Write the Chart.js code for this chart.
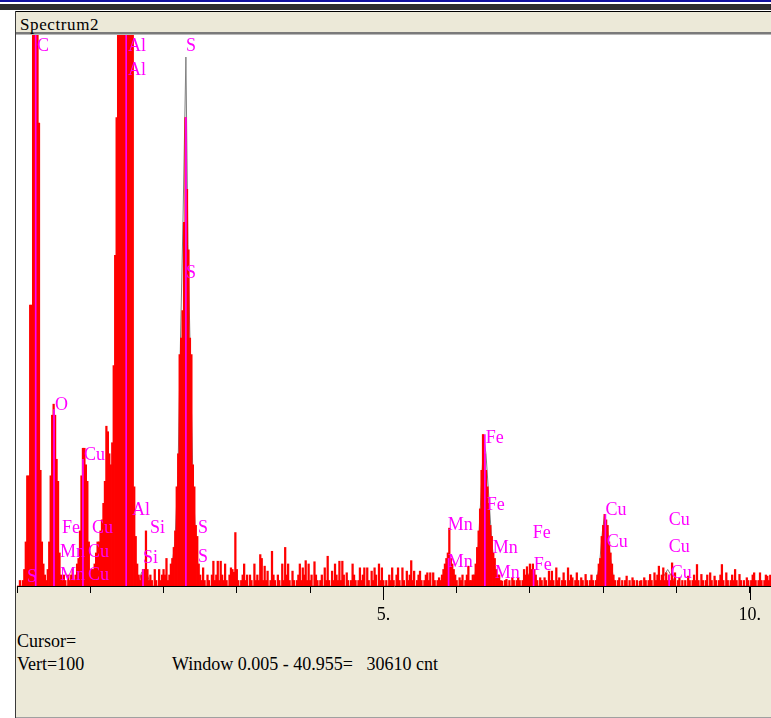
<!DOCTYPE html>
<html>
<head>
<meta charset="utf-8">
<title>Spectrum2</title>
<script src="https://cdn.jsdelivr.net/npm/chart.js@4.4.1/dist/chart.umd.min.js"></script>
<style>
  html, body { margin: 0; padding: 0; background: #fff; }
  body { width: 771px; height: 718px; position: relative; overflow: hidden; font-family: "Liberation Serif", serif; }
  .abs { position: absolute; }
  #barBlue { left: 0; top: 0; width: 771px; height: 2px; background: #10109c; }
  #barDark { left: 0; top: 4px; width: 771px; height: 6px; background: #2c2c2c; }
  #frameTop { left: 15px; top: 11px; width: 756px; height: 1px; background: #000; }
  #frameLeft { left: 15px; top: 11px; width: 1px; height: 707px; background: #3a3a3a; }
  #titleBar { left: 16px; top: 12px; width: 755px; height: 20px; background: #ece9d8; }
  #titleShadow { left: 16px; top: 32px; width: 755px; height: 2px; background: #7a7a7a; }
  #titleShadow2 { left: 16px; top: 34px; width: 755px; height: 1px; background: #b8b8b8; }
  #plotBg { left: 16px; top: 35px; width: 755px; height: 551px; background: #fff; }
  #lowerPanel { left: 16px; top: 586px; width: 755px; height: 131px; background: #ece9d8; }
  #lowerEdge { left: 16px; top: 717px; width: 755px; height: 1px; background: #a0a0a0; }
  #spectrumChart { position: absolute; left: 17px; top: 35px; }
  .txt { position: absolute; color: #000; white-space: pre; }
  #titleTxt { left: 20px; top: 16px; font-size: 17px; line-height: 17px; letter-spacing: 0.6px; }
  #cursorTxt { left: 17px; top: 632px; font-size: 18px; line-height: 18px; }
  #vertTxt { left: 17px; top: 655px; font-size: 18px; line-height: 18px; }
  #windowTxt { left: 172px; top: 655px; font-size: 18px; line-height: 18px; }
</style>
</head>
<body>
<div class="abs" id="barBlue"></div>
<div class="abs" id="barDark"></div>
<div class="abs" id="frameTop"></div>
<div class="abs" id="titleBar"></div>
<div class="abs" id="titleShadow"></div>
<div class="abs" id="titleShadow2"></div>
<div class="abs" id="plotBg"></div>
<div class="abs" id="lowerPanel"></div>
<div class="abs" id="lowerEdge"></div>
<div class="abs" id="frameLeft"></div>
<div class="txt" id="titleTxt">Spectrum2</div>
<canvas id="spectrumChart" width="754" height="596"></canvas>
<div class="txt" id="cursorTxt">Cursor=</div>
<div class="txt" id="vertTxt">Vert=100</div>
<div class="txt" id="windowTxt">Window 0.005 - 40.955=   30610 cnt</div>

<script>
// canali da 0.02 keV, un array per ogni keV (conteggi)
const channelWidth = 0.02;
const cts0 = [0,0,1,0,1,3,8,20,20,51, 51,150,150,150,150,84,21,8,4,2, 1,3,8,20,31,33,31,23,19,6, 2,1,2,1,0,2,1,2,3,1, 2,4,5,10,20,25,25,22,19,8];
const cts1 = [3,3,3,4,6,8,8,10,12,15, 19,29,28,24,22,26,40,60,85,150, 150,150,150,150,150,150,150,150,150,150, 18,9,4,2,1,2,3,3,10,3, 1,2,1,0,3,1,0,3,1,2];
const cts2 = [3,2,5,1,2,4,5,7,10,18, 24,42,45,50,66,85,72,61,45,42, 22,18,11,9,4,2,1,3.3,1,0, 2,1,0,2,4.5,1,2,4.5,1,4.5, 2,1,4,1,0,2,3.3,3,2.5,9.7];
const cts3 = [3,1,0,1,2,4,1,2,0,2, 1,0,4,1,2,1,5.7,5,1,3.6, 1,2.7,0,1,6.3,2,1,0,2,1, 0,4,1,7,2,4,1,0,2.7,1, 0,1,2,4,1,3.3,2,4.6,1,4];
const cts4 = [1,2,0,4.4,2,1,0,1,2,0, 3.3,1,5.4,1,0,2.7,1,4,2,1, 4.5,1,4.5,2,0,2.4,1,0,1,4, 2,1,0,1,3.3,1,2,3.3,0,3.3, 1,0,2.7,1,3.3,2,0,4,1,3.3];
const cts5 = [1,0,1,0,2,1,3.3,1,0,2, 3.3,1,0,3.3,1,0,2.7,1,2,4.6, 1,2.7,0,1,2,2.7,1,0,1,2, 2.4,1,2.4,0,2.4,1,0,1,1.5,1, 2,3,4,5,6,10.5,5,4,3,2];
const cts6 = [1,0,1.5,1,2,0,1,2,3.6,1, 1,2,2,4,7,10,14,21,27.5,24, 21,18,15,11,9,6,5,3,2,2, 1,0.9,0,1,1.2,0,1,0,1.5,1, 0,1,1.5,1,0,1,3,2,3.5,2];
const cts7 = [4,3,4,3,2,1,0,1.5,1,0, 1.5,1,0,2.7,1,2.7,1,0,3.3,1, 1.5,0,1,2.4,1,0,3.3,1,2,1.5, 0,1,2.4,1,0,1.5,1,0,2.1,1, 0,1,2,1,0,1,2,4,5,9];
const cts8 = [11,13,12,11,8,6,4,2,1,0, 1,1.5,0,1,0,1,1.8,0,1,0, 1.5,1,0,1,0,0.9,1,0,1.5,1, 0,1,2.1,1,0,2.4,1,2,3.6,1, 2,3.3,1,2.4,1,2,1,4.2,1,2.4];
const cts9 = [0,1,1.5,0,1,0,1,0,1.8,1, 0,1,2,1,3.9,1,0,2.1,1,0, 1,2,0,2.4,1,0,1.8,1,0,1, 2,3.9,1,0,2.4,1,0,1,2,1, 3,1,0,2.1,1,0,1,0,1.5,1];
const cts10 = [0,1,2,2.4,1,0,1,2.4,1,0,1,2,1.8,1,2];

// curva di fit grigia (null = interruzione)
const fitKeV    = [1.66,1.70,1.74,1.78,1.82,1.85, 2.09,2.155,2.196,2.224,2.265,2.305,2.333,2.36,2.40,2.44,2.48,2.52, 5.80,5.85,5.89,5.93,5.99,6.1, 6.235,6.29,6.33,6.37,6.40,6.44,6.48,6.52,6.58,6.7, 6.94,7.01,7.08,7.5, 7.90,7.95,7.99,8.02,8.06,8.10,8.15,8.5, 8.77,8.88,8.99];
const fitCounts = [0.3,2.5,3,2,0.3,null, 1,8,20,40,66,96,62,45,20,8,2,null, 0.5,3.5,5.5,3.5,0.5,null, 0.5,6,16,27,24,16,8,3,0.5,null, 0.5,3,0.5,null, 0.5,4,10,13,10,5,0.5,null, 0.5,3,0.5];

// linee marker degli elementi
const lineKeV = [0.255, 0.505, 0.90, 1.49, 1.72, 2.305, 5.89, 6.385, 7.05, 8.03, 8.90];
const lineTop = [100, 32, 23, 100, 3, 85, 5, 27.5, 3, 13, 2];

// etichette degli elementi
const labelNames  = ['C','S','O','Cu','Fe','Cu','Mn','Cu','Mn','Cu','Al','Al','Al','Si','Si','S','S','S','S','Mn','Mn','Fe','Fe','Mn','Mn','Fe','Fe','Cu','Cu','Cu','Cu','Cu'];
const labelKeV    = [0.273,0.136,0.518,0.914,0.614,1.023,0.587,0.969,0.587,0.969,1.514,1.514,1.569,1.814,1.719,2.306,2.306,2.469,2.469,5.880,5.880,6.398,6.412,6.494,6.521,7.040,7.053,8.033,8.047,8.895,8.895,8.922];
const labelCounts = [100,0.7,32,22.9,9.6,9.6,5.3,5.3,1.1,1.1,100,92.7,12.9,9.6,4.2,100,55.9,9.6,4.4,10.2,3.4,26,13.8,6,1.5,8.7,2.9,12.9,7.1,11.1,6.2,1.5];

const tickLabels = { 5: '5.', 10: '10.' };
const majorTickKeV = [5, 10];

const allCounts = [].concat(cts0, cts1, cts2, cts3, cts4, cts5, cts6, cts7, cts8, cts9, cts10);
const spectrumData = allCounts.map((c, i) => ({ x: +(i * channelWidth).toFixed(2), y: c }));
const fitData = fitKeV.map((e, i) => ({ x: e, y: fitCounts[i] }));
const markerData = lineKeV.map((e, i) => ({ x: e, y: lineTop[i] }));

const peakLabels = {
    id: 'peakLabels',
    afterDatasetsDraw(chart) {
        const { ctx, chartArea, scales: { x, y } } = chart;
        ctx.save();
        ctx.font = '18px "Liberation Serif"';
        ctx.fillStyle = '#ff00ff';
        ctx.textBaseline = 'alphabetic';
        labelNames.forEach((name, i) => {
            const px = x.getPixelForValue(labelKeV[i]);
            const py = Math.max(y.getPixelForValue(labelCounts[i]), chartArea.top + 16);
            ctx.fillText(name, px, py);
        });
        ctx.restore();
    }
};

// tacche lunghe a 5 e 10
const majorTicks = {
    id: 'majorTicks',
    afterDraw(chart) {
        const { ctx, chartArea, scales: { x } } = chart;
        ctx.save();
        ctx.strokeStyle = '#000';
        ctx.lineWidth = 1;
        ctx.beginPath();
        majorTickKeV.forEach(v => {
            const px = Math.round(x.getPixelForValue(v)) + 0.5;
            ctx.moveTo(px, chartArea.bottom);
            ctx.lineTo(px, chartArea.bottom + 14);
        });
        ctx.stroke();
        ctx.restore();
    }
};

new Chart(document.getElementById('spectrumChart'), {
    type: 'bar',
    data: {
        datasets: [
            { type: 'bar', label: 'Marker', data: markerData, backgroundColor: '#ff00ff', barThickness: 1, grouped: false, order: 0, clip: 0 },
            { type: 'bar', label: 'Spectrum2', data: spectrumData, backgroundColor: '#ff0000', barThickness: 1.6, grouped: false, order: 1, clip: 0 },
            { type: 'line', label: 'Fit', data: fitData, borderColor: '#7f7f7f', borderWidth: 1, pointRadius: 0, spanGaps: false, tension: 0, order: 2, clip: 0 }
        ]
    },
    options: {
        responsive: false,
        animation: false,
        events: [],
        layout: { padding: 0, autoPadding: false },
        plugins: { legend: { display: false }, tooltip: { enabled: false } },
        scales: {
            x: {
                type: 'linear', min: 0, max: 10.29, offset: false,
                grid: { display: true, offset: false, drawOnChartArea: false, drawTicks: true, tickLength: 7, color: '#000', lineWidth: 1 },
                border: { display: true, color: '#000', width: 1 },
                ticks: {
                    stepSize: 1, includeBounds: false, autoSkip: false, maxRotation: 0, minRotation: 0, padding: 11,
                    color: '#000', font: { family: '"Liberation Serif"', size: 18 },
                    callback: v => tickLabels[v] || ''
                },
                afterFit: s => { s.height = 45; s.paddingLeft = 0; s.paddingRight = 0; }
            },
            y: { display: false, min: 0, max: 100 }
        }
    },
    plugins: [peakLabels, majorTicks]
});
</script>
</body>
</html>
